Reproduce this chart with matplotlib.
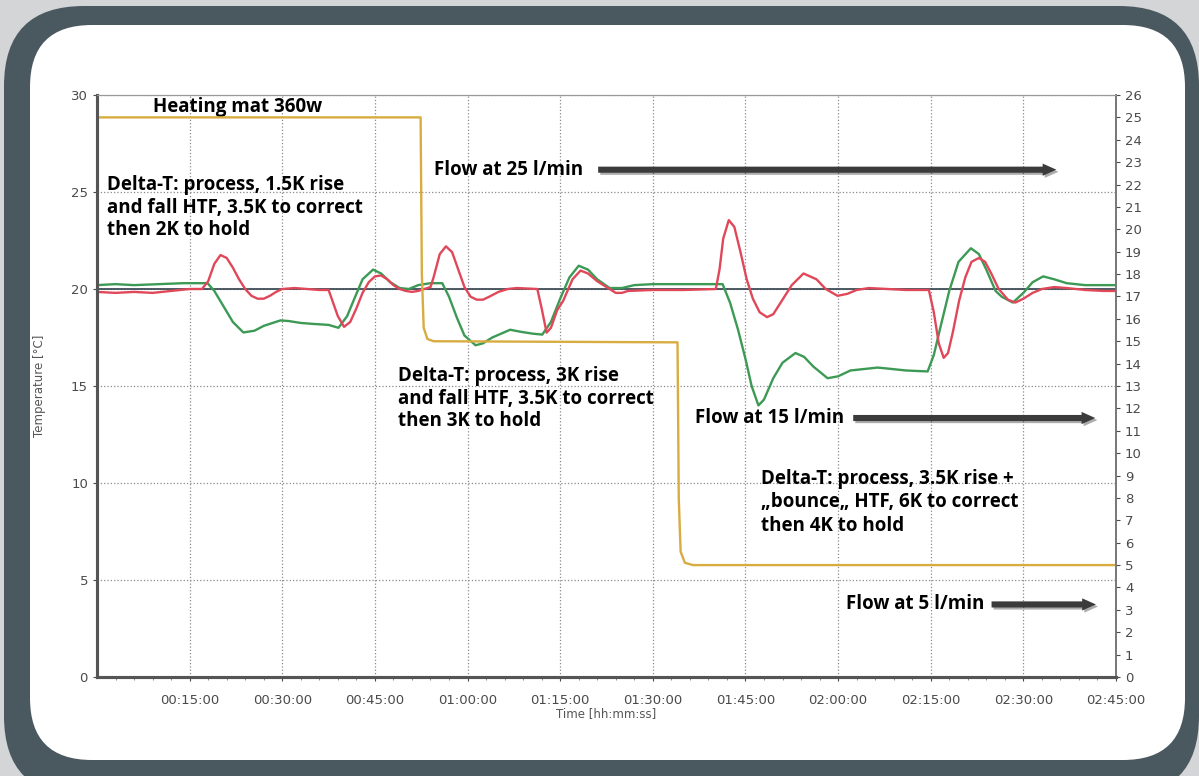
import matplotlib.pyplot as plt
from matplotlib.patches import FancyBboxPatch, FancyArrowPatch
import matplotlib.patheffects as pe

# ---- data (time in minutes) ----
setpoint = 20.0

red_t = [0, 3, 6, 9, 12, 15, 17, 18, 19, 20, 21, 22, 23, 24, 25, 26, 27, 28, 29, 30,
         32, 34, 36, 37.5, 38, 39, 40, 41, 42, 43, 44, 45, 46, 47, 48, 49, 50, 51, 52,
         53, 54, 54.5, 55.5, 56.5, 57.5, 58.5, 59.5, 60.5, 61.5, 62.5, 63.5, 65, 66.5,
         68, 71.3, 72.0, 72.8, 73.5, 74.5, 75.5, 77, 78.3, 79.5, 81, 83, 84, 85, 86,
         90, 95, 100.2, 100.8, 101.4, 102.3, 103.2, 104.2, 105.2, 106.2, 107.3, 108.5,
         109.5, 110.5, 112.5, 114.4, 116.5, 118, 119.9, 121.5, 123, 125, 128, 131,
         134.7, 135.5, 136.3, 137.1, 137.8, 138.6, 139.6, 140.6, 141.6, 142.8, 143.8,
         144.8, 146, 147.5, 148.7, 150, 151.5, 153, 155, 157, 160, 163, 165]
red_v = [19.85, 19.8, 19.85, 19.8, 19.9, 20.0, 20.0, 20.4, 21.3, 21.75, 21.6, 21.1,
         20.5, 20.0, 19.65, 19.5, 19.5, 19.65, 19.85, 20.0, 20.05, 20.0, 19.95, 19.95,
         19.5, 18.6, 18.05, 18.3, 19.0, 19.8, 20.35, 20.65, 20.7, 20.5, 20.2, 20.0,
         19.9, 19.85, 19.9, 20.0, 20.1, 20.6, 21.8, 22.2, 21.9, 21.0, 20.1, 19.6,
         19.45, 19.45, 19.6, 19.85, 20.0, 20.05, 20.0, 19.0, 17.75, 18.0, 18.9, 19.4,
         20.5, 20.95, 20.8, 20.4, 20.0, 19.8, 19.8, 19.9, 19.95, 19.95, 20.0, 21.0,
         22.6, 23.55, 23.2, 21.9, 20.5, 19.5, 18.8, 18.55, 18.7, 19.2, 20.2, 20.8,
         20.5, 20.0, 19.65, 19.75, 19.95, 20.05, 20.0, 19.95, 19.95, 18.8, 17.2, 16.45,
         16.7, 17.8, 19.4, 20.6, 21.4, 21.6, 21.4, 20.8, 20.0, 19.45, 19.3, 19.5, 19.8,
         20.0, 20.1, 20.05, 19.95, 19.9, 19.9]

green_t = [0, 3, 6, 10, 14, 17.9, 19, 20.5, 22, 23.7, 25.5, 27, 29.7, 31, 33, 35, 37.5,
           39.1, 40.5, 41.8, 43, 44.7, 46, 47.5, 49, 50.5, 52, 54, 55.9, 57, 58.3, 59.5,
           61.3, 62.5, 64, 66.9, 68.5, 70.5, 72.1, 73.5, 75, 76.5, 78, 79.5, 81, 83, 85,
           87, 90, 95, 101.3, 102.5, 103.8, 105, 106, 107.1, 108, 109.5, 111, 113.1,
           114.5, 116, 118.3, 120, 122, 126.4, 128, 131, 134.5, 135.5, 136.7, 138,
           139.5, 141.5, 142.8, 144, 145.5, 146.5, 148.3, 150, 151.5, 153.2, 155, 157,
           160, 165]
green_v = [20.2, 20.25, 20.2, 20.25, 20.3, 20.3, 19.9, 19.1, 18.3, 17.76, 17.85, 18.1,
           18.38, 18.35, 18.25, 18.2, 18.15, 18.0, 18.6, 19.6, 20.5, 21.0, 20.8, 20.35,
           20.05, 20.0, 20.2, 20.3, 20.3, 19.6, 18.5, 17.6, 17.1, 17.2, 17.5, 17.9, 17.8,
           17.7, 17.65, 18.3, 19.5, 20.6, 21.2, 21.0, 20.5, 20.05, 20.05, 20.2, 20.25,
           20.25, 20.25, 19.3, 17.9, 16.4, 15.0, 14.0, 14.3, 15.4, 16.2, 16.7, 16.5, 16.0,
           15.4, 15.5, 15.8, 15.95, 15.9, 15.8, 15.75, 16.6, 18.2, 19.9, 21.4, 22.1, 21.8,
           21.0, 19.9, 19.6, 19.3, 19.8, 20.35, 20.65, 20.5, 20.3, 20.2, 20.2]

flow_t = [0, 52.4, 52.6, 52.9, 53.5, 54.5, 94.0, 94.2, 94.5, 95.2, 96.5, 165]
flow_v = [25.0, 25.0, 18.0, 15.6, 15.1, 15.0, 14.95, 8.0, 5.6, 5.1, 5.0, 5.0]

time_ticks = [15, 30, 45, 60, 75, 90, 105, 120, 135, 150, 165]
time_labels = ["00:15:00", "00:30:00", "00:45:00", "01:00:00", "01:15:00", "01:30:00",
               "01:45:00", "02:00:00", "02:15:00", "02:30:00", "02:45:00"]

W, H = 1199, 776
fig = plt.figure(figsize=(W / 100, H / 100), dpi=100)

# background frame drawn in pixel coordinates
bg = fig.add_axes([0, 0, 1, 1])
bg.set_xlim(0, W)
bg.set_ylim(H, 0)
bg.axis("off")
bg.add_patch(plt.Rectangle((0, 0), W, H, color="#d3d5d6"))
bg.add_patch(FancyBboxPatch((4, 6), 1195, 790, boxstyle="round,pad=0,rounding_size=80",
                            fc="#4a5860", ec="none"))
bg.add_patch(FancyBboxPatch((30, 25), 1155, 735, boxstyle="round,pad=0,rounding_size=62",
                            fc="white", ec="none"))

ax = fig.add_axes([97 / W, 1 - 677 / H, 1019 / W, 582 / H])
ax.set_xlim(0, 165)
ax.set_ylim(0, 30)

ax.axhline(setpoint, color="#3f4d57", lw=1.3, zorder=3)
ax.plot(green_t, green_v, color="#3c9a55", lw=1.7, zorder=4)
ax.plot(red_t, red_v, color="#e0485a", lw=1.7, zorder=5)

ax2 = ax.twinx()
ax2.set_ylim(0, 26)
ax2.plot(flow_t, flow_v, color="#d8ac40", lw=1.7, zorder=2)

ax.set_xticks(time_ticks)
ax.set_xticklabels(time_labels)
ax.set_xticks([t for t in range(3, 165, 3) if t % 15], minor=True)
ax.set_yticks(range(0, 31, 5))
ax2.set_yticks(range(0, 27))

ax.grid(True, which="major", linestyle=":", color="#8a8a8a", lw=0.9)
for a in (ax, ax2):
    a.tick_params(labelsize=9.5, colors="#4a4a4a", length=3, width=0.8)
ax.tick_params(axis="x", which="minor", length=2, colors="#777777")
ax.tick_params(axis="x", pad=9)
ax.set_xlabel("Time [hh:mm:ss]", fontsize=8.5, color="#555555", labelpad=0)
ax.set_ylabel("Temperature [°C]", fontsize=8.5, color="#555555", labelpad=18)

for a in (ax, ax2):
    a.spines["left"].set_color("#555555")
    a.spines["left"].set_linewidth(2.2)
    a.spines["bottom"].set_color("#555555")
    a.spines["bottom"].set_linewidth(2.2)
    a.spines["top"].set_color("#999999")
    a.spines["right"].set_color("#777777")
    a.spines["right"].set_linewidth(1.2)

# annotations
tfont = dict(family="Open Sans", weight="bold", fontsize=13.5, color="black")
ax.text(9.1, 29.4, "Heating mat 360w", va="center", **tfont)
ax.text(1.6, 24.2, "Delta-T: process, 1.5K rise\nand fall HTF, 3.5K to correct\nthen 2K to hold",
        va="center", linespacing=1.17, **tfont)
ax.text(48.8, 14.35, "Delta-T: process, 3K rise\nand fall HTF, 3.5K to correct\nthen 3K to hold",
        va="center", linespacing=1.17, **tfont)
ax.text(107.5, 9.0, "Delta-T: process, 3.5K rise +\n\u201ebounce\u201e HTF, 6K to correct\nthen 4K to hold",
        va="center", linespacing=1.22, **tfont)

flows = [("Flow at 25 l/min", 54.5, 80.7, 155.8, 26.15),
         ("Flow at 15 l/min", 96.9, 122.0, 162.1, 13.35),
         ("Flow at 5 l/min", 121.2, 144.4, 162.2, 3.74)]
for label, tx, x0, x1, y in flows:
    ax.text(tx, y, label, va="center", **tfont)
    arr = FancyArrowPatch((x0, y), (x1, y), mutation_scale=11,
                          arrowstyle="simple,head_length=0.9,head_width=0.8,tail_width=0.4",
                          fc="#3b3b3b", ec="none", zorder=6)
    arr.set_path_effects([pe.SimplePatchShadow(offset=(1.5, -1.5), alpha=0.35), pe.Normal()])
    ax.add_patch(arr)

fig.savefig("out.png", dpi=100)
